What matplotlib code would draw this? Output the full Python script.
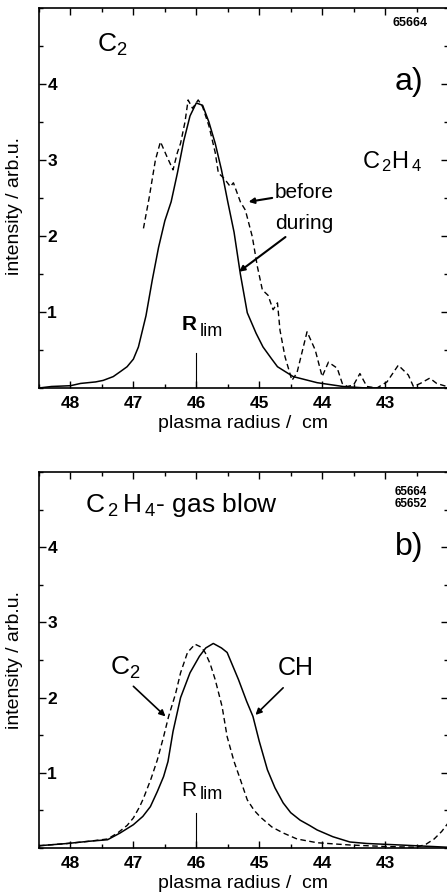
import numpy as np
import matplotlib
matplotlib.use('Agg')
import matplotlib.pyplot as plt
from matplotlib.ticker import MultipleLocator

plt.rcParams['font.family'] = ['Liberation Sans', 'DejaVu Sans']
plt.rcParams['mathtext.default'] = 'regular'

# panel a: C2 emission, before / during C2H4 blow
during_x = [48.5, 48.3, 48.0, 47.84, 47.6, 47.48, 47.32, 47.2, 47.1, 47.0, 46.92, 46.8,
            46.7, 46.6, 46.5, 46.4, 46.3, 46.2, 46.1, 46.0, 45.9, 45.8, 45.7, 45.6,
            45.5, 45.4, 45.3, 45.19, 45.05, 44.94, 44.8, 44.71, 44.46, 44.08, 43.67,
            43.3, 42.0]
during_y = [0.0, 0.02, 0.03, 0.06, 0.08, 0.1, 0.15, 0.22, 0.28, 0.38, 0.54, 0.95,
            1.42, 1.85, 2.2, 2.45, 2.83, 3.25, 3.58, 3.75, 3.72, 3.5, 3.22, 2.87,
            2.45, 2.05, 1.5, 0.99, 0.72, 0.54, 0.38, 0.28, 0.15, 0.07, 0.02,
            0.0, 0.0]

before_x = [46.84, 46.75, 46.65, 46.57, 46.47, 46.37, 46.3, 46.25, 46.18, 46.13, 46.06,
            45.97, 45.9, 45.8, 45.7, 45.65, 45.55, 45.46, 45.41, 45.3, 45.22, 45.11,
            45.03, 44.95, 44.86, 44.78, 44.71, 44.67, 44.59, 44.48, 44.4, 44.24, 44.11,
            44.0, 43.9, 43.76, 43.68, 43.6, 43.5, 43.4, 43.29, 43.13, 42.97, 42.79,
            42.63, 42.55, 42.44, 42.29, 42.18, 42.02]
before_y = [2.1, 2.5, 3.0, 3.24, 3.05, 2.87, 3.1, 3.22, 3.5, 3.79, 3.68,
            3.79, 3.7, 3.45, 3.1, 2.83, 2.75, 2.65, 2.7, 2.45, 2.34, 1.99,
            1.6, 1.29, 1.22, 1.03, 1.12, 0.76, 0.41, 0.1, 0.2, 0.74, 0.5,
            0.15, 0.34, 0.26, 0.06, 0.02, 0.04, 0.19, 0.02, 0.0, 0.08, 0.3,
            0.17, 0.02, 0.06, 0.13, 0.06, 0.02]

# panel b: CH (solid) and C2 (dashed) during C2H4 gas blow
ch_x = [48.5, 48.05, 47.7, 47.41, 47.21, 47.0, 46.85, 46.73, 46.62, 46.52, 46.45, 46.37,
        46.25, 46.1, 45.95, 45.85, 45.73, 45.6, 45.51, 45.42, 45.33, 45.2, 45.1, 45.0,
        44.87, 44.75, 44.62, 44.5, 44.35, 44.2, 44.08, 43.83, 43.56, 43.29, 42.76, 42.0]
ch_y = [0.03, 0.06, 0.09, 0.11, 0.2, 0.31, 0.42, 0.55, 0.75, 0.95, 1.15, 1.55,
        2.0, 2.33, 2.55, 2.66, 2.72, 2.66, 2.6, 2.42, 2.24, 1.95, 1.75, 1.42,
        1.04, 0.8, 0.6, 0.47, 0.37, 0.3, 0.24, 0.15, 0.08, 0.06, 0.04, 0.01]

c2_x = [48.5, 48.05, 47.7, 47.41, 47.25, 47.1, 47.0, 46.9, 46.84, 46.72, 46.62, 46.52,
        46.44, 46.33, 46.25, 46.14, 46.02, 45.92, 45.86, 45.78, 45.7, 45.59, 45.51, 45.4,
        45.3, 45.19, 45.08, 44.98, 44.8, 44.62, 44.4, 44.08, 43.56, 43.0, 42.5, 42.35,
        42.22, 42.1, 42.0]
c2_y = [0.03, 0.06, 0.09, 0.12, 0.2, 0.3, 0.4, 0.55, 0.66, 0.92, 1.17, 1.48,
        1.75, 2.05, 2.33, 2.6, 2.71, 2.67, 2.6, 2.45, 2.24, 1.88, 1.48, 1.15,
        0.91, 0.64, 0.5, 0.41, 0.28, 0.2, 0.12, 0.07, 0.04, 0.02, 0.01, 0.05,
        0.12, 0.22, 0.33]

x_ticks = [48, 47, 46, 45, 44, 43]
y_ticks = [1, 2, 3, 4]
r_lim = 46.0

dash = (0, (4, 2.5))

fig = plt.figure(figsize=(4.47, 8.92), dpi=100)
ax_a = fig.add_axes([39/447, 1 - 388/892, 409/447, 380/892])
ax_b = fig.add_axes([39/447, 1 - 848/892, 409/447, 376/892])


def style(ax):
    ax.set_xlim(48.5, 42.0)
    ax.set_ylim(0, 5)
    ax.set_xticks(x_ticks)
    ax.set_yticks(y_ticks)
    ax.xaxis.set_minor_locator(MultipleLocator(0.5))
    ax.yaxis.set_minor_locator(MultipleLocator(0.5))
    ax.tick_params(which='both', direction='in', top=True, right=True, width=1)
    ax.tick_params(which='major', length=5)
    ax.tick_params(which='minor', length=3)
    ax.tick_params(axis='x', pad=6, labelsize=12.5)
    ax.tick_params(axis='y', pad=-6, labelsize=12.5)
    for lab in ax.get_yticklabels():
        lab.set_horizontalalignment('left')
        lab.set_fontweight('bold')
    for lab in ax.get_xticklabels():
        lab.set_fontweight('bold')
    for sp in ax.spines.values():
        sp.set_linewidth(1.2)
    ax.spines['right'].set_visible(False)
    ax.set_xlabel('plasma radius /  cm', fontsize=14, labelpad=3)
    ax.set_ylabel('intensity / arb.u.', fontsize=14)
    # R_lim marker
    ax.plot([r_lim, r_lim], [0, 0.46], color='k', lw=0.8)


style(ax_a)
style(ax_b)
ax_a.yaxis.set_label_coords(-0.039, 0.48)
ax_b.yaxis.set_label_coords(-0.039, 0.50)

# ---- panel a
ax_a.plot(during_x, during_y, color='k', lw=1.1)
ax_a.plot(before_x, before_y, color='k', lw=1.0, ls=dash)

ax_a.text(0.178, 0.903, r'$C_2$', transform=ax_a.transAxes, fontsize=19,
          ha='center', va='center')
ax_a.text(0.939, 0.805, 'a)', transform=ax_a.transAxes, fontsize=23,
          ha='right', va='center')
ax_a.text(0.949, 0.96, '65664', transform=ax_a.transAxes, fontsize=9,
          fontweight='bold', ha='right', va='center')
ax_a.text(0.789, 0.595, r'$C_{\,2}H_{\,4}$', transform=ax_a.transAxes, fontsize=17,
          ha='left', va='center')
ax_a.annotate('before', xy=(45.17, 2.45), xytext=(44.75, 2.57), fontsize=15,
              ha='left', va='center',
              arrowprops=dict(arrowstyle='-|>', color='k', lw=1.5, mutation_scale=8,
                              shrinkA=0, shrinkB=0))
ax_a.annotate('during', xy=(45.32, 1.53), xytext=(44.75, 2.17), fontsize=15,
              ha='left', va='center',
              arrowprops=dict(arrowstyle='-|>', color='k', lw=1.5, mutation_scale=8,
                              shrinkA=2, shrinkB=0))
ax_a.text(46.0, 0.83, 'R', fontsize=15, fontweight='bold', ha='right', va='center')
ax_a.text(45.94, 0.74, 'lim', fontsize=13, ha='left', va='center')

# ---- panel b
ax_b.plot(ch_x, ch_y, color='k', lw=1.1)
ax_b.plot(c2_x, c2_y, color='k', lw=1.0, ls=dash)

ax_b.text(0.112, 0.912, r'$C_{\,2}\,H_{\,4}$- gas blow', transform=ax_b.transAxes,
          fontsize=19, ha='left', va='center')
ax_b.text(0.949, 0.947, '65664', transform=ax_b.transAxes, fontsize=8.5,
          fontweight='bold', ha='right', va='center')
ax_b.text(0.949, 0.914, '65652', transform=ax_b.transAxes, fontsize=8.5,
          fontweight='bold', ha='right', va='center')
ax_b.text(0.939, 0.80, 'b)', transform=ax_b.transAxes, fontsize=23,
          ha='right', va='center')
ax_b.text(0.21, 0.48, r'$C_2$', transform=ax_b.transAxes, fontsize=19,
          ha='center', va='center')
ax_b.text(0.628, 0.48, 'CH', transform=ax_b.transAxes, fontsize=18,
          ha='center', va='center')
ax_b.annotate('', xy=(46.49, 1.75), xytext=(47.0, 2.15),
              arrowprops=dict(arrowstyle='-|>', color='k', lw=1.2, mutation_scale=9,
                              shrinkA=0, shrinkB=0))
ax_b.annotate('', xy=(45.06, 1.77), xytext=(44.62, 2.13),
              arrowprops=dict(arrowstyle='-|>', color='k', lw=1.2, mutation_scale=9,
                              shrinkA=0, shrinkB=0))
ax_b.text(46.0, 0.77, 'R', fontsize=15, ha='right', va='center')
ax_b.text(45.94, 0.71, 'lim', fontsize=13, ha='left', va='center')

fig.savefig('out.png', dpi=100)
